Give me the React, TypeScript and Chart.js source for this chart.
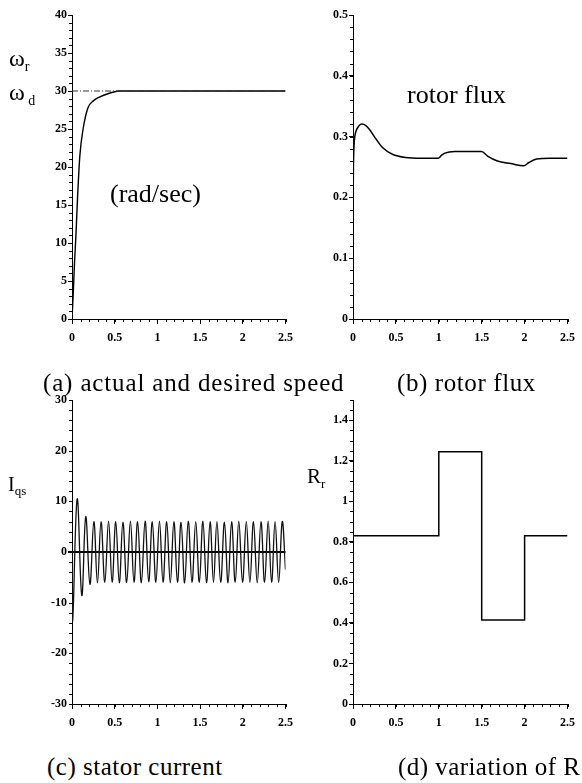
import React, { useEffect, useRef } from "react";
import { Chart, registerables } from "chart.js";

Chart.register(...registerables);

// ---------- data ----------
const X_TICKS = [0, 0.5, 1, 1.5, 2, 2.5];

// (a) actual and desired speed
const SPEED_T = [0, 0.015, 0.03, 0.046, 0.065, 0.092, 0.13, 0.187, 0.25, 0.32, 0.436, 0.55, 2.5];
const SPEED = [0, 3.5, 7.5, 11, 16, 21.5, 25, 27.8, 28.7, 29.2, 29.7, 30, 30];
const DESIRED_T = [0, 2.5];
const DESIRED = [30, 30];
const Y_TICKS_A = [0, 5, 10, 15, 20, 25, 30, 35, 40];

// (b) rotor flux
const FLUX_T = [0, 0.005, 0.012, 0.02, 0.038, 0.07, 0.107, 0.15, 0.19, 0.268, 0.344, 0.459, 0.612, 0.8, 0.994, 1.03, 1.07, 1.186, 1.35, 1.499, 1.568, 1.683, 1.838, 1.99, 2.05, 2.14, 2.3, 2.5];
const FLUX = [0.17, 0.25, 0.285, 0.299, 0.31, 0.318, 0.3206, 0.318, 0.312, 0.296, 0.282, 0.271, 0.2657, 0.2645, 0.2645, 0.269, 0.2728, 0.2755, 0.2755, 0.2755, 0.268, 0.26, 0.2557, 0.252, 0.2574, 0.263, 0.2645, 0.2645];
const Y_TICKS_B = [0, 0.1, 0.2, 0.3, 0.4, 0.5];

// (c) stator current (peaks and troughs)
const CURRENT_T = [
  0, 0.008, 0.061, 0.115, 0.161, 0.21, 0.256, 0.298, 0.34, 0.384,
  0.428, 0.47, 0.512, 0.554, 0.596, 0.64, 0.684, 0.726, 0.768, 0.812,
  0.856, 0.898, 0.94, 0.982, 1.024, 1.066, 1.109, 1.151, 1.193, 1.235,
  1.277, 1.319, 1.361, 1.405, 1.449, 1.491, 1.533, 1.575, 1.617, 1.657,
  1.697, 1.741, 1.785, 1.827, 1.869, 1.911, 1.953, 1.997, 2.041, 2.083,
  2.125, 2.169, 2.213, 2.255, 2.297, 2.337, 2.378, 2.42, 2.462, 2.5,
];
const CURRENT = [
  0, -13.5, 10.5, -8.6, 7.0, -6.4, 6.0, -6.1, 6.0, -6.0,
  6.1, -6.0, 6.0, -6.1, 5.9, -6.0, 6.1, -6.0, 6.0, -6.1,
  6.1, -5.9, 6.0, -6.0, 6.1, -6.0, 6.0, -6.1, 6.0, -6.0,
  5.9, -6.1, 6.1, -6.0, 6.0, -6.0, 6.1, -6.1, 6.0, -6.0,
  6.0, -6.0, 5.9, -6.1, 6.0, -6.0, 6.1, -6.0, 6.0, -6.0,
  6.0, -6.1, 6.0, -6.0, 6.1, -6.0, 6.0, -6.0, 6.0, -3.5,
];
const Y_TICKS_C = [-30, -20, -10, 0, 10, 20, 30];

// (d) variation of Rr
const RR_T = [0, 1, 1.5, 2, 2.5];
const RR = [0.83, 1.245, 0.415, 0.83, 0.83];
const Y_TICKS_D = [0, 0.2, 0.4, 0.6, 0.8, 1, 1.2, 1.4];

// ---------- helpers ----------
const pts = (xs: number[], ys: number[]) => xs.map((x, i) => ({ x, y: ys[i] }));

const TICK_FONT = { family: "'Liberation Serif', serif", size: 12, weight: "bold" as const };

const minorTicksPlugin = {
  id: "minorTicks",
  afterDraw(chart: any, _args: any, opts: any) {
    const { ctx, chartArea } = chart;
    ctx.save();
    ctx.strokeStyle = "#000";
    ctx.lineWidth = 1;
    ["x", "y"].forEach((id) => {
      const step = opts[id];
      if (!step) return;
      const s = chart.scales[id];
      const n = Math.round((s.max - s.min) / step);
      ctx.beginPath();
      for (let i = 0; i <= n; i++) {
        const p = Math.round(s.getPixelForValue(s.min + i * step)) + 0.5;
        if (id === "x") {
          ctx.moveTo(p, chartArea.bottom);
          ctx.lineTo(p, chartArea.bottom + 3);
        } else {
          ctx.moveTo(chartArea.left - 3, p);
          ctx.lineTo(chartArea.left, p);
        }
      }
      ctx.stroke();
    });
    ctx.restore();
  },
};

function makeConfig(p: {
  datasets: any[];
  ymin: number;
  ymax: number;
  yTicks: number[];
  minorX: number;
  minorY: number;
  padTop: number;
  padRight: number;
  yWidth: number;
  xHeight: number;
  zeroLine?: boolean;
}): any {
  return {
    type: "line",
    data: { datasets: p.datasets },
    plugins: [minorTicksPlugin],
    options: {
      animation: false,
      responsive: false,
      events: [],
      layout: { padding: { top: p.padTop, right: p.padRight, left: 0, bottom: 0 }, autoPadding: false },
      plugins: {
        legend: { display: false },
        tooltip: { enabled: false },
        title: { display: false },
        minorTicks: { x: p.minorX, y: p.minorY },
      },
      elements: { point: { radius: 0 } },
      scales: {
        x: {
          type: "linear",
          min: 0,
          max: 2.5,
          afterBuildTicks: (s: any) => {
            s.ticks = X_TICKS.map((v) => ({ value: v }));
          },
          afterFit: (s: any) => {
            s.height = p.xHeight;
          },
          ticks: {
            autoSkip: false,
            maxRotation: 0,
            padding: 7,
            color: "#000",
            font: TICK_FONT,
            callback: (v: any) => String(v),
          },
          grid: { drawOnChartArea: false, drawTicks: true, tickLength: 5, tickColor: "#000" },
          border: { display: true, color: "#000", width: 1 },
        },
        y: {
          type: "linear",
          min: p.ymin,
          max: p.ymax,
          afterBuildTicks: (s: any) => {
            s.ticks = p.yTicks.map((v) => ({ value: v }));
          },
          afterFit: (s: any) => {
            s.width = p.yWidth;
          },
          ticks: {
            padding: 1,
            color: "#000",
            font: TICK_FONT,
            callback: (v: any) => String(v),
          },
          grid: p.zeroLine
            ? {
                drawOnChartArea: true,
                drawTicks: true,
                tickLength: 4,
                tickColor: "#000",
                lineWidth: (c: any) => (c.tick && c.tick.value === 0 ? 2 : 0),
                color: (c: any) => (c.tick && c.tick.value === 0 ? "#000" : "rgba(0,0,0,0)"),
              }
            : { drawOnChartArea: false, drawTicks: true, tickLength: 4, tickColor: "#000" },
          border: { display: true, color: "#000", width: 1 },
        },
      },
    },
  };
}

function Panel(props: { left: number; top: number; width: number; height: number; config: () => any }) {
  const ref = useRef<HTMLCanvasElement | null>(null);
  useEffect(() => {
    const chart = new Chart(ref.current as HTMLCanvasElement, props.config());
    return () => chart.destroy();
  }, []);
  return (
    <canvas
      ref={ref}
      width={props.width}
      height={props.height}
      style={{ position: "absolute", left: props.left, top: props.top, width: props.width, height: props.height }}
    />
  );
}

const serif = "'Liberation Serif', 'Times New Roman', serif";

function Txt(props: { left: number; top: number; size: number; children: any; style?: any }) {
  return (
    <div
      style={{
        position: "absolute",
        left: props.left,
        top: props.top,
        fontFamily: serif,
        fontSize: props.size,
        lineHeight: 1,
        whiteSpace: "nowrap",
        color: "#000",
        ...(props.style || {}),
      }}
    >
      {props.children}
    </div>
  );
}

export default function App() {
  const cfgA = () =>
    makeConfig({
      datasets: [
        {
          data: pts(DESIRED_T, DESIRED),
          borderColor: "#333",
          borderWidth: 1,
          borderDash: [6, 2, 1, 2],
        },
        {
          data: pts(SPEED_T, SPEED),
          borderColor: "#000",
          borderWidth: 1.4,
          cubicInterpolationMode: "monotone",
        },
      ],
      ymin: 0,
      ymax: 40,
      yTicks: Y_TICKS_A,
      minorX: 0.1,
      minorY: 1,
      padTop: 15,
      padRight: 6,
      yWidth: 72,
      xHeight: 41,
    });
  const cfgB = () =>
    makeConfig({
      datasets: [
        {
          data: pts(FLUX_T, FLUX),
          borderColor: "#000",
          borderWidth: 1.5,
          cubicInterpolationMode: "monotone",
        },
      ],
      ymin: 0,
      ymax: 0.5,
      yTicks: Y_TICKS_B,
      minorX: 0.1,
      minorY: 0.02,
      padTop: 15,
      padRight: 7,
      yWidth: 63,
      xHeight: 41,
    });
  const cfgC = () =>
    makeConfig({
      datasets: [
        {
          data: pts(CURRENT_T, CURRENT),
          borderColor: "#111",
          borderWidth: 1.3,
          tension: 0.4,
        },
      ],
      ymin: -30,
      ymax: 30,
      yTicks: Y_TICKS_C,
      minorX: 0.1,
      minorY: 2,
      padTop: 10,
      padRight: 6,
      yWidth: 72,
      xHeight: 46,
      zeroLine: true,
    });
  const cfgD = () =>
    makeConfig({
      datasets: [
        {
          data: pts(RR_T, RR),
          borderColor: "#000",
          borderWidth: 1.5,
          stepped: "before",
        },
      ],
      ymin: 0,
      ymax: 1.5,
      yTicks: Y_TICKS_D,
      minorX: 0.1,
      minorY: 0.05,
      padTop: 10,
      padRight: 7,
      yWidth: 63,
      xHeight: 46,
    });

  return (
    <div
      style={{
        position: "absolute",
        left: 0,
        top: 0,
        width: 582,
        height: 783,
        background: "#fff",
        overflow: "hidden",
      }}
    >
      <Panel left={0} top={0} width={300} height={360} config={cfgA} />
      <Panel left={290} top={0} width={292} height={360} config={cfgB} />
      <Panel left={0} top={390} width={300} height={360} config={cfgC} />
      <Panel left={290} top={390} width={292} height={360} config={cfgD} />

      <Txt left={9} top={46} size={24}>
        ω<span style={{ fontSize: 14, verticalAlign: -5 }}>r</span>
      </Txt>
      <Txt left={9} top={80} size={24}>
        ω<span style={{ fontSize: 14, verticalAlign: -5 }}> d</span>
      </Txt>
      <Txt left={110} top={181} size={26}>(rad/sec)</Txt>
      <Txt left={407} top={82} size={26}>rotor flux</Txt>

      <Txt left={8} top={474} size={20}>
        I<span style={{ fontSize: 13, verticalAlign: -4 }}>qs</span>
      </Txt>
      <Txt left={307} top={466} size={21}>
        R<span style={{ fontSize: 13, verticalAlign: -5 }}>r</span>
      </Txt>

      <Txt left={43} top={370} size={25} style={{ letterSpacing: 0.85 }}>
        (a) actual and desired speed
      </Txt>
      <Txt left={397} top={370} size={25} style={{ letterSpacing: 0.6 }}>
        (b) rotor flux
      </Txt>
      <Txt left={47} top={754} size={25} style={{ letterSpacing: 0.5 }}>
        (c) stator current
      </Txt>
      <Txt left={398} top={754} size={25} style={{ letterSpacing: 0.45 }}>
        (d) variation of R
      </Txt>
    </div>
  );
}
